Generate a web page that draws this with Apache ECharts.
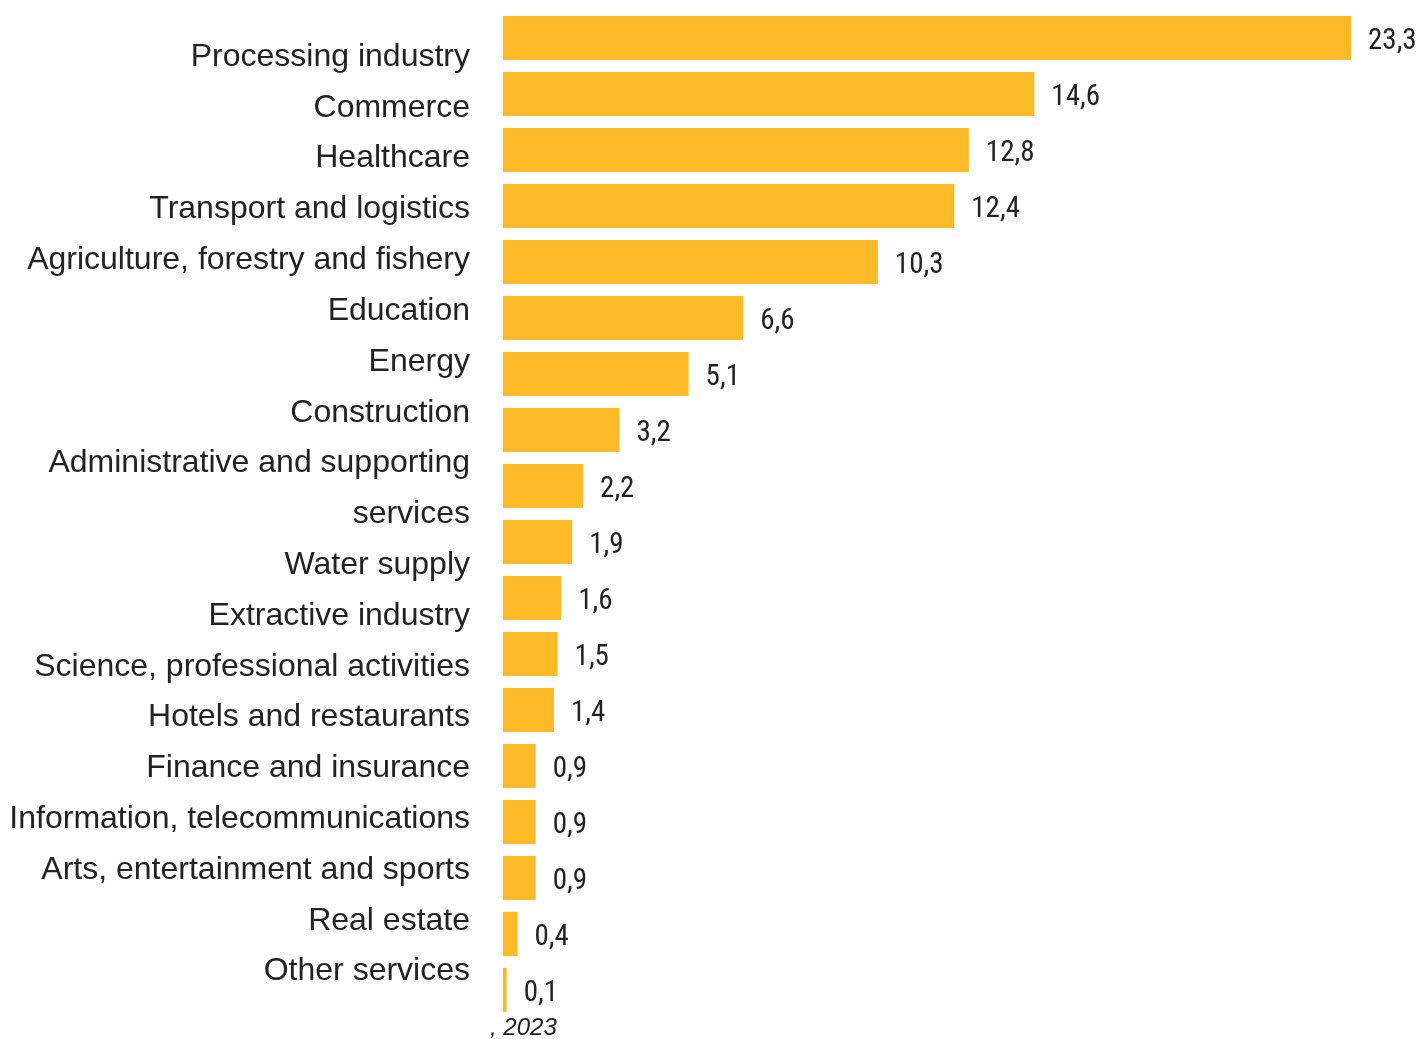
<!DOCTYPE html>
<html>
<head>
<meta charset="utf-8">
<script src="https://cdn.jsdelivr.net/npm/echarts@6/dist/echarts.min.js"></script>
<style>
  html, body { margin: 0; padding: 0; background: #fff; }
  #chart { width: 1418px; height: 1039px; }
</style>
</head>
<body>
<div id="chart"></div>
<script>
// Share by type of economic activity, %
const categories = [
  'Processing industry', 'Commerce', 'Healthcare', 'Transport and logistics',
  'Agriculture, forestry and fishery', 'Education', 'Energy', 'Construction',
  'Administrative and supporting services', 'Water supply', 'Extractive industry',
  'Science, professional activities', 'Hotels and restaurants', 'Finance and insurance',
  'Information, telecommunications', 'Arts, entertainment and sports', 'Real estate',
  'Other services'
];
const values = [23.3, 14.6, 12.8, 12.4, 10.3, 6.6, 5.1, 3.2, 2.2, 1.9, 1.6, 1.5, 1.4, 0.9, 0.9, 0.9, 0.4, 0.1];

// Text column on the left, one entry per printed line
const labelLines = [
  'Processing industry', 'Commerce', 'Healthcare', 'Transport and logistics',
  'Agriculture, forestry and fishery', 'Education', 'Energy', 'Construction',
  'Administrative and supporting', 'services', 'Water supply', 'Extractive industry',
  'Science, professional activities', 'Hotels and restaurants', 'Finance and insurance',
  'Information, telecommunications', 'Arts, entertainment and sports', 'Real estate',
  'Other services'
];
const footnote = ', 2023';

const chart = echarts.init(document.getElementById('chart'));
chart.setOption({
  animation: false,
  backgroundColor: '#ffffff',
  grid: [
    { left: 503, right: 67, top: 10, bottom: 21 },
    { left: 0, width: 470, top: 31.6, height: 965.4 }
  ],
  xAxis: [
    { gridIndex: 0, type: 'value', min: 0, max: 23.3, show: false },
    { gridIndex: 1, type: 'value', min: 0, max: 1, show: false }
  ],
  yAxis: [
    {
      gridIndex: 0, type: 'category', data: categories, inverse: true,
      axisLine: { show: false }, axisTick: { show: false }, axisLabel: { show: false }
    },
    {
      gridIndex: 1, type: 'category', data: labelLines, inverse: true, position: 'right',
      axisLine: { show: false }, axisTick: { show: false },
      axisLabel: {
        inside: true, margin: 0, align: 'right',
        fontFamily: 'Liberation Sans, Arial, sans-serif', fontSize: 32, color: '#222222'
      }
    }
  ],
  series: [
    {
      type: 'bar', xAxisIndex: 0, yAxisIndex: 0, data: values,
      barCategoryGap: '21%',
      itemStyle: { color: '#FCBA28' },
      label: {
        show: true, position: 'right', distance: 17,
        formatter: p => String(p.value).replace('.', ','),
        fontFamily: 'Liberation Sans Narrow, Roboto Condensed, Arial Narrow, sans-serif',
        fontSize: 29, color: '#222222', offset: [0, 4]
      }
    },
    { type: 'scatter', xAxisIndex: 1, yAxisIndex: 1, data: [], silent: true }
  ],
  graphic: [
    {
      type: 'text', left: 490, top: 1016,
      style: {
        text: footnote, fontFamily: 'Liberation Sans, Arial, sans-serif',
        fontStyle: 'italic', fontSize: 24, fill: '#222222'
      }
    }
  ]
});
</script>
</body>
</html>
